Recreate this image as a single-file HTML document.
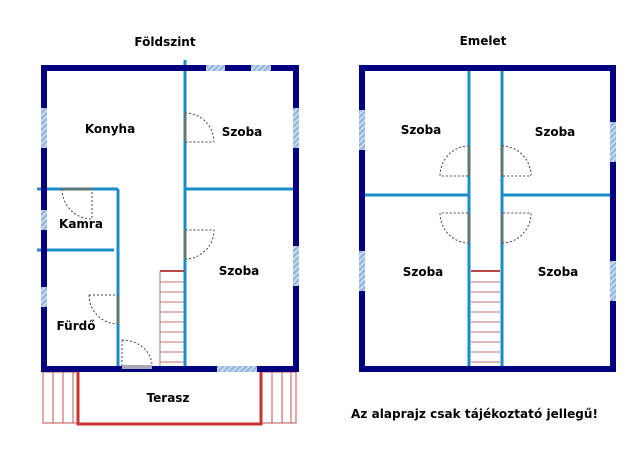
<!DOCTYPE html>
<html><head><meta charset="utf-8"><style>
html,body{margin:0;padding:0;background:#fff;}
svg{display:block;}
text{font-family:"DejaVu Sans","Liberation Sans",sans-serif;font-weight:bold;font-size:12px;fill:#000;}
</style></head><body>
<svg width="640" height="451" viewBox="0 0 640 451" xmlns="http://www.w3.org/2000/svg">
<defs>
<pattern id="hat" width="4" height="4" patternUnits="userSpaceOnUse" patternTransform="rotate(45)">
<rect width="4" height="4" fill="#c8dcf0"/><rect width="2" height="4" fill="#8fb4dc"/>
</pattern>
</defs>

<!-- ===== Left building ===== -->
<!-- terrace decks -->
<g stroke="#c05050" stroke-width="1" fill="none">
<rect x="43" y="372" width="34" height="51"/>
<line x1="53" y1="372" x2="53" y2="423"/><line x1="63" y1="372" x2="63" y2="423"/><line x1="73" y1="372" x2="73" y2="423"/>
<rect x="262" y="372" width="34" height="51"/>
<line x1="272" y1="372" x2="272" y2="423"/><line x1="282" y1="372" x2="282" y2="423"/><line x1="291" y1="372" x2="291" y2="423"/>
</g>
<polyline points="78,372 78,424 261,424 261,372" fill="none" stroke="#c83232" stroke-width="3"/>

<!-- interior walls -->
<g stroke="#1a8cc8" stroke-width="3" fill="none">
<line x1="185" y1="60" x2="185" y2="366"/>
<line x1="185" y1="189" x2="293" y2="189"/>
<line x1="37" y1="189" x2="118" y2="189"/>
<line x1="118" y1="189" x2="118" y2="366"/>
<line x1="37" y1="250" x2="114" y2="250"/>
</g>

<!-- stairs -->
<g stroke="#c07070" stroke-width="1">
<line x1="160" y1="271" x2="160" y2="366"/>
<line x1="160" y1="282" x2="184" y2="282"/><line x1="160" y1="292" x2="184" y2="292"/>
<line x1="160" y1="302" x2="184" y2="302"/><line x1="160" y1="312" x2="184" y2="312"/>
<line x1="160" y1="322" x2="184" y2="322"/><line x1="160" y1="332" x2="184" y2="332"/>
<line x1="160" y1="342" x2="184" y2="342"/><line x1="160" y1="352" x2="184" y2="352"/>
<line x1="160" y1="362" x2="184" y2="362"/>
</g>
<line x1="160" y1="271" x2="184" y2="271" stroke="#b84848" stroke-width="2"/>

<!-- doors -->
<g fill="none" stroke="#444" stroke-width="1" stroke-dasharray="2,2">
<path d="M185,113 A29,29 0 0 1 214,142 L185,142"/>
<path d="M185,259 A29,29 0 0 0 214,230 L185,230"/>
<path d="M62,189 A30,30 0 0 0 92,219 L92,189"/>
<path d="M89,295 A29,29 0 0 0 118,324"/><line x1="89" y1="295" x2="118" y2="295"/>
<path d="M122,340 A30,26 0 0 1 152,366"/><line x1="122" y1="340" x2="122" y2="366"/>
</g>
<g stroke="#5a7a7a" stroke-width="3">
<line x1="185" y1="113" x2="185" y2="142"/>
<line x1="185" y1="230" x2="185" y2="259"/>
<line x1="62" y1="189" x2="92" y2="189"/>
<line x1="118" y1="295" x2="118" y2="324"/>
</g>

<!-- outer walls -->
<rect x="44" y="68" width="252" height="301" fill="none" stroke="#000080" stroke-width="6"/>
<!-- windows -->
<rect x="206" y="65" width="19" height="6" fill="url(#hat)"/>
<rect x="251" y="65" width="20" height="6" fill="url(#hat)"/>
<rect x="41" y="108" width="6" height="40" fill="url(#hat)"/>
<rect x="41" y="210" width="6" height="20" fill="url(#hat)"/>
<rect x="41" y="287" width="6" height="20" fill="url(#hat)"/>
<rect x="293" y="108" width="6" height="40" fill="url(#hat)"/>
<rect x="293" y="246" width="6" height="40" fill="url(#hat)"/>
<rect x="217" y="366" width="40" height="6" fill="url(#hat)"/>
<rect x="122" y="365" width="30" height="4" fill="#a8a8b8"/>

<text x="165" y="46" text-anchor="middle">Földszint</text>
<text x="110" y="133" text-anchor="middle">Konyha</text>
<text x="242" y="136" text-anchor="middle">Szoba</text>
<text x="81" y="228" text-anchor="middle">Kamra</text>
<text x="239" y="275" text-anchor="middle">Szoba</text>
<text x="76" y="330" text-anchor="middle">Fürdő</text>
<text x="168" y="402" text-anchor="middle">Terasz</text>

<!-- ===== Right building ===== -->
<g stroke="#1a8cc8" stroke-width="3" fill="none">
<line x1="469" y1="71" x2="469" y2="366"/>
<line x1="502" y1="71" x2="502" y2="366"/>
<line x1="365" y1="195" x2="469" y2="195"/>
<line x1="502" y1="195" x2="610" y2="195"/>
</g>
<g stroke="#c07070" stroke-width="1">
<line x1="471" y1="282" x2="500" y2="282"/><line x1="471" y1="292" x2="500" y2="292"/>
<line x1="471" y1="302" x2="500" y2="302"/><line x1="471" y1="312" x2="500" y2="312"/>
<line x1="471" y1="322" x2="500" y2="322"/><line x1="471" y1="332" x2="500" y2="332"/>
<line x1="471" y1="342" x2="500" y2="342"/><line x1="471" y1="352" x2="500" y2="352"/>
<line x1="471" y1="362" x2="500" y2="362"/>
</g>
<line x1="471" y1="271" x2="500" y2="271" stroke="#b84848" stroke-width="2"/>
<g fill="none" stroke="#444" stroke-width="1" stroke-dasharray="2,2">
<path d="M469,146 A29,30 0 0 0 440,176 L469,176"/>
<path d="M502,146 A29,30 0 0 1 531,176 L502,176"/>
<path d="M469,243 A29,30 0 0 1 440,213 L469,213"/>
<path d="M502,243 A29,30 0 0 0 531,213 L502,213"/>
</g>
<g stroke="#5a7a7a" stroke-width="3">
<line x1="469" y1="146" x2="469" y2="176"/>
<line x1="502" y1="146" x2="502" y2="176"/>
<line x1="469" y1="213" x2="469" y2="243"/>
<line x1="502" y1="213" x2="502" y2="243"/>
</g>
<rect x="362" y="68" width="251" height="301" fill="none" stroke="#000080" stroke-width="6"/>
<rect x="359" y="110" width="6" height="40" fill="url(#hat)"/>
<rect x="359" y="251" width="6" height="40" fill="url(#hat)"/>
<rect x="610" y="122" width="6" height="40" fill="url(#hat)"/>
<rect x="610" y="261" width="6" height="40" fill="url(#hat)"/>

<text x="483" y="45" text-anchor="middle">Emelet</text>
<text x="421" y="134" text-anchor="middle">Szoba</text>
<text x="555" y="136" text-anchor="middle">Szoba</text>
<text x="423" y="276" text-anchor="middle">Szoba</text>
<text x="558" y="276" text-anchor="middle">Szoba</text>

<text x="351" y="418" textLength="247">Az alaprajz csak tájékoztató jellegű!</text>
</svg>
</body></html>
